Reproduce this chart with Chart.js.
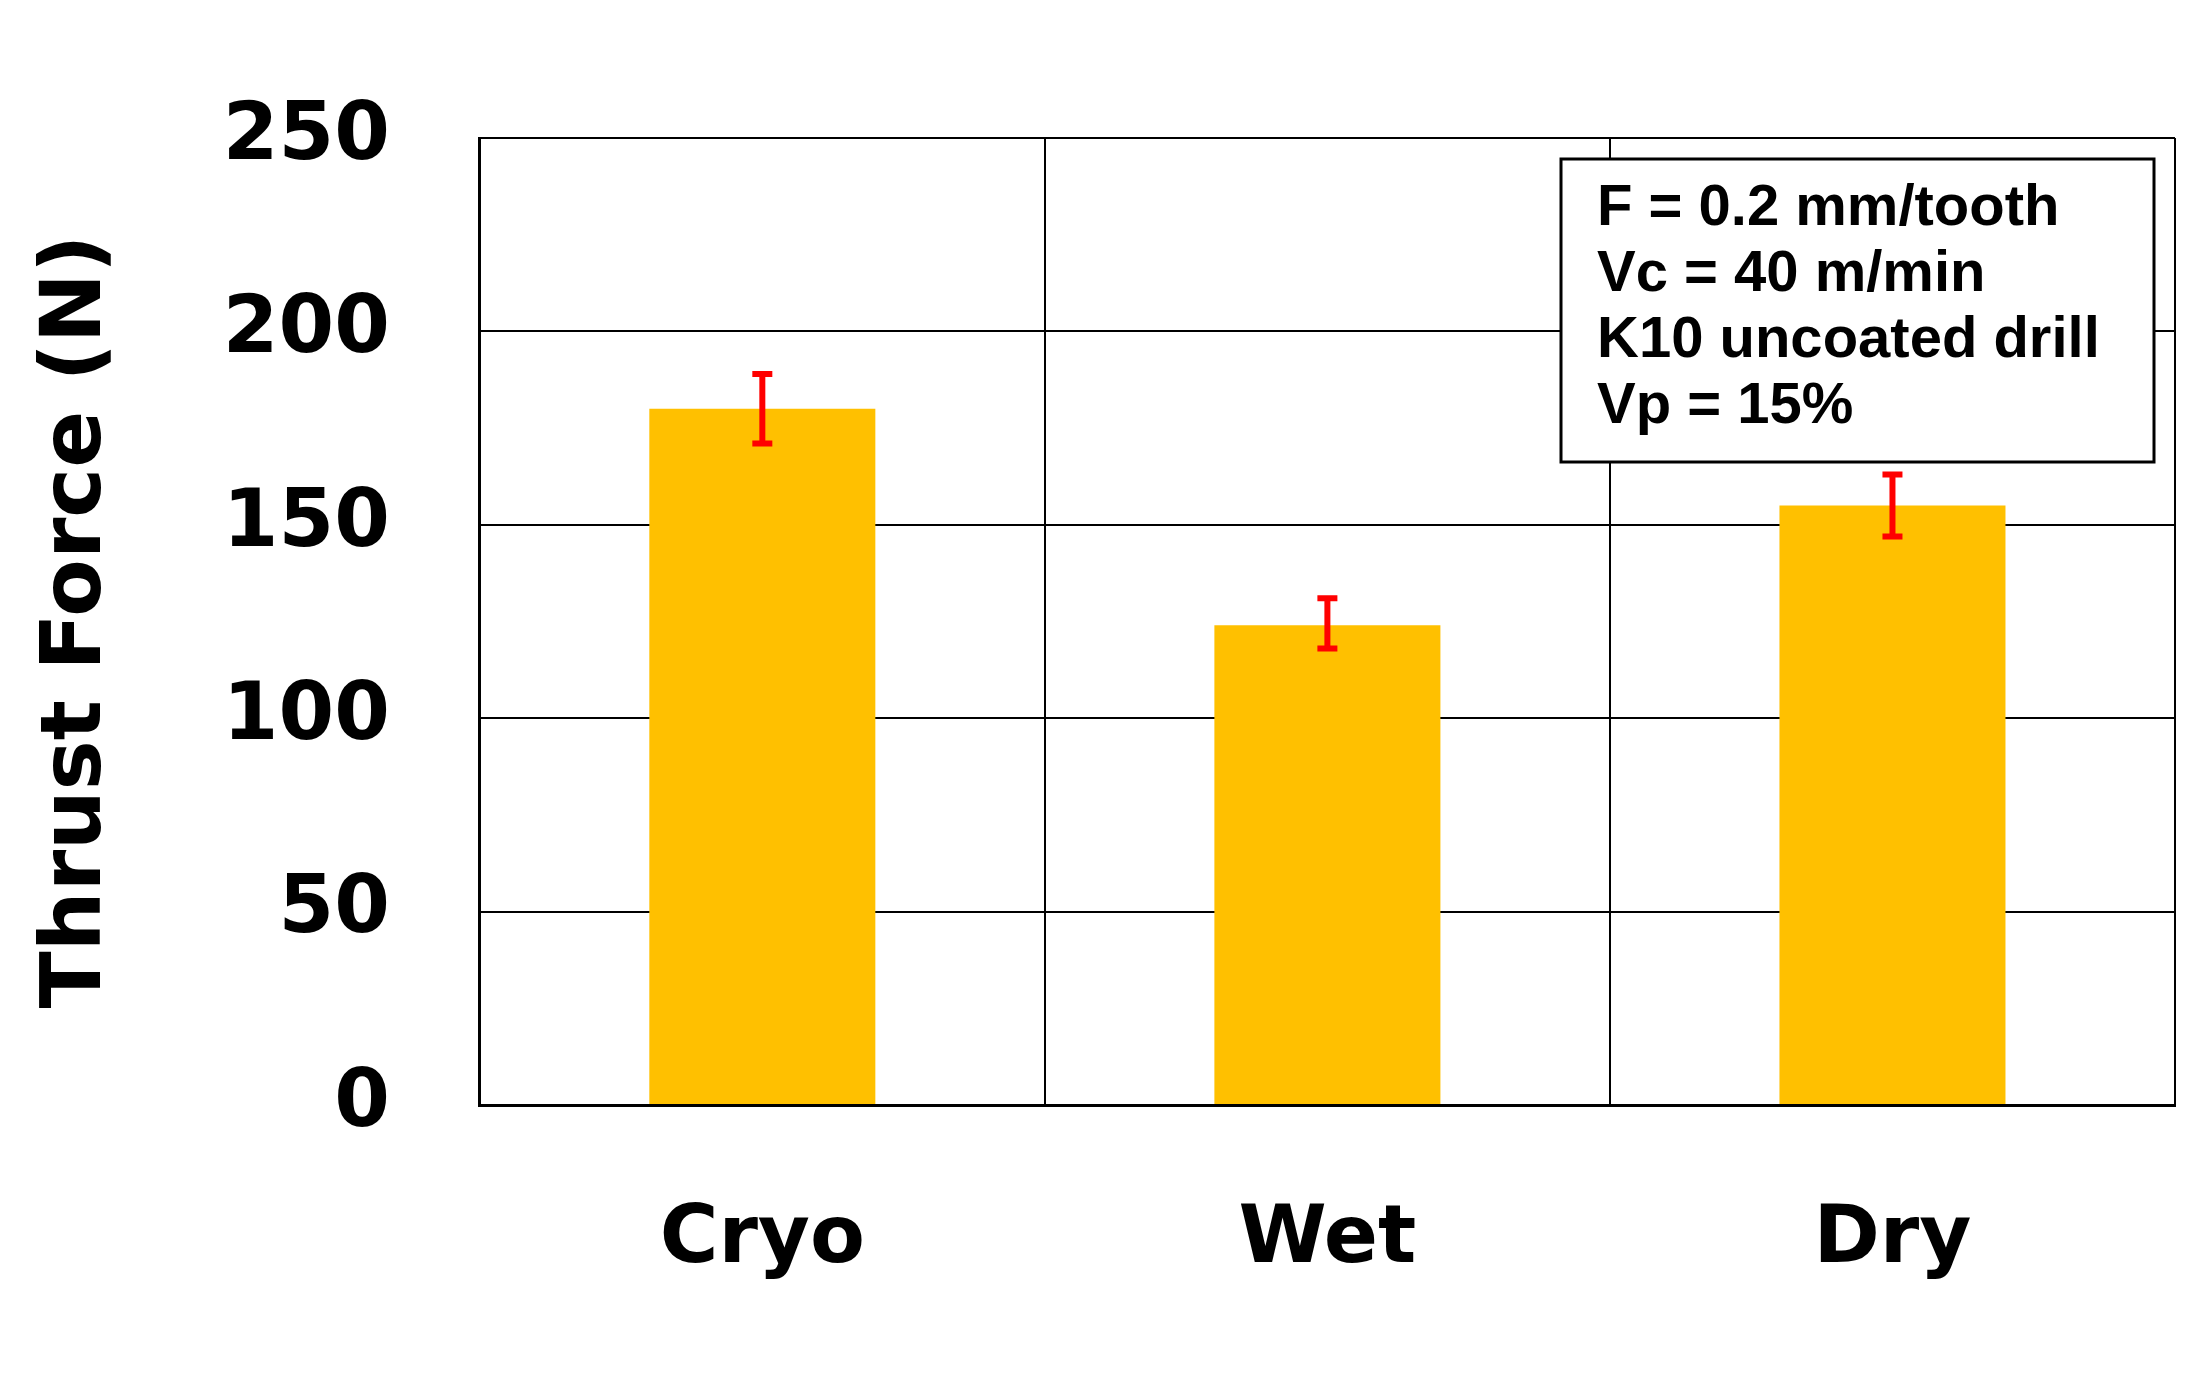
<!DOCTYPE html>
<html>
<head>
<meta charset="utf-8">
<script src="https://cdn.jsdelivr.net/npm/chart.js@4"></script>
<style>
  html, body { margin: 0; padding: 0; background: #fff; }
  canvas { display: block; }
</style>
</head>
<body>
<canvas id="chart" width="2201" height="1377"></canvas>
<script>
// data
const categories = ['Cryo', 'Wet', 'Dry'];
const thrustForce = [180, 124, 155];
const errorUp = [9, 7, 8];
const errorDown = [9, 6, 8];
const yTicks = [0, 50, 100, 150, 200, 250];
const noteLines = ['F = 0.2 mm/tooth', 'Vc = 40 m/min', 'K10 uncoated drill', 'Vp = 15%'];

const FONT = '"Liberation Sans", Arial, sans-serif';
const WIDE = '"DejaVu Sans", sans-serif';

// red error bars, drawn through the scales
const errorBars = {
    id: 'errorBars',
    afterDatasetsDraw(chart) {
        const ctx = chart.ctx;
        const y = chart.scales.y;
        const meta = chart.getDatasetMeta(0);
        ctx.save();
        ctx.strokeStyle = '#ff0000';
        ctx.lineWidth = 6;
        meta.data.forEach((bar, i) => {
            const top = y.getPixelForValue(thrustForce[i] + errorUp[i]);
            const bot = y.getPixelForValue(thrustForce[i] - errorDown[i]);
            ctx.beginPath();
            ctx.moveTo(bar.x, top); ctx.lineTo(bar.x, bot);
            ctx.moveTo(bar.x - 10, top); ctx.lineTo(bar.x + 10, top);
            ctx.moveTo(bar.x - 10, bot); ctx.lineTo(bar.x + 10, bot);
            ctx.stroke();
        });
        ctx.restore();
    }
};

// box with cutting conditions
const noteBox = {
    id: 'noteBox',
    afterDraw(chart) {
        const ctx = chart.ctx;
        const a = chart.chartArea;
        const w = 593, h = 303;
        const x = a.right - 21 - w, y = a.top + 21;
        ctx.save();
        ctx.fillStyle = '#fff';
        ctx.fillRect(x, y, w, h);
        ctx.strokeStyle = '#000';
        ctx.lineWidth = 3;
        ctx.strokeRect(x, y, w, h);
        ctx.fillStyle = '#000';
        ctx.font = 'bold 58px ' + FONT;
        ctx.textBaseline = 'middle';
        noteLines.forEach((t, i) => ctx.fillText(t, x + 36, y + 50 + i * 66));
        ctx.restore();
    }
};

new Chart(document.getElementById('chart'), {
    type: 'bar',
    data: {
        labels: categories,
        datasets: [{
            data: thrustForce,
            backgroundColor: '#ffc000',
            barPercentage: 0.4,
            categoryPercentage: 1.0
        }]
    },
    options: {
        responsive: false,
        animation: false,
        layout: { padding: { top: 20, right: 26, left: 0, bottom: 0 } },
        plugins: { legend: { display: false }, tooltip: { enabled: false } },
        scales: {
            x: {
                grid: { color: '#000', lineWidth: 2, offset: true, drawTicks: false },
                border: { color: '#000', width: 3 },
                ticks: { color: '#000', padding: 88, font: { family: WIDE, size: 80, weight: 'bold' } }
            },
            y: {
                min: 0, max: 250,
                afterBuildTicks: s => { s.ticks = yTicks.map(v => ({ value: v })); },
                grid: { color: '#000', lineWidth: 2, drawTicks: false },
                border: { color: '#000', width: 3 },
                ticks: { color: '#000', padding: 90, font: { family: WIDE, size: 80, weight: 'bold' } },
                title: {
                    display: true, text: 'Thrust Force (N)', color: '#000',
                    padding: { top: 28, bottom: 4 },
                    font: { family: WIDE, size: 84, weight: 'bold' }
                }
            }
        }
    },
    plugins: [errorBars, noteBox]
});
</script>
</body>
</html>
